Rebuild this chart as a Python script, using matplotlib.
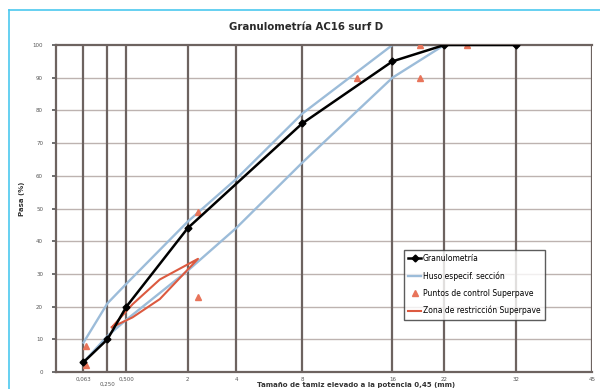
"""
Curva granulometrica AC16 surf D en escala de potencia 0,45
"""

import matplotlib
matplotlib.use("Agg")
import matplotlib.pyplot as plt
import numpy as np

######################################################################
# Datos

# tamices con linea vertical (mm)
tamices = [0.063, 0.25, 0.5, 2, 4, 8, 16, 22, 32, 45]
etiquetas_tamiz = ["0,063", "0,250", "0,500", "2", "4", "8", "16", "22", "32", "45"]

# granulometria de la mezcla
gr_tamiz = [0.063, 0.25, 0.5, 2, 8, 16, 22, 32]
gr_pasa = [3, 10, 20, 44, 76, 95, 100, 100]

# huso especificado AC16 D
huso_tamiz = [0.063, 0.25, 0.5, 2, 4, 8, 16, 22]
huso_sup = [9, 21, 27, 46, 59, 79, 100, 100]
huso_inf = [3, 11, 16, 31, 44, 64, 90, 100]

# puntos de control Superpave (19 mm)
ctrl_tamiz = [0.075, 0.075, 2.36, 2.36, 12.5, 19, 19, 25]
ctrl_pasa = [2, 8, 23, 49, 90, 90, 100, 100]

# zona de restriccion Superpave (19 mm)
zr_tamiz = [0.3, 0.6, 1.18, 2.36, 1.18, 0.6, 0.3]
zr_pasa = [13.7, 16.7, 22.3, 34.6, 28.3, 20.7, 13.7]


def p045(d):
    return np.power(np.asarray(d, dtype=float), 0.45)


######################################################################
# Figura
fig = plt.figure(figsize=(6, 3.89), dpi=100)
ax = fig.add_axes([0.0927, 0.0437, 0.894, 0.8406])

# marco exterior del grafico
fig.add_artist(plt.Line2D([9 / 600, 9 / 600], [0, 1 - 10 / 389], color="#4cc8ef", lw=1.2))
fig.add_artist(plt.Line2D([9 / 600, 1], [1 - 10 / 389, 1 - 10 / 389], color="#4cc8ef", lw=1.2))

# rejilla
for v in range(10, 100, 10):
    ax.axhline(v, color="#bdb3b0", lw=1.0, zorder=1)
for t in tamices:
    ax.axvline(p045(t), color="#6d6360", lw=1.6, zorder=1)

# huso
ax.plot(p045(huso_tamiz), huso_sup, color="#9cbcd9", lw=1.7, zorder=2,
        label="Huso especif. sección")
ax.plot(p045(huso_tamiz), huso_inf, color="#9cbcd9", lw=1.7, zorder=2)

# zona de restriccion
ax.plot(p045(zr_tamiz), zr_pasa, color="#dc5a40", lw=1.5, zorder=3,
        label="Zona de restricción Superpave")

# puntos de control
ax.plot(p045(ctrl_tamiz), ctrl_pasa, ls="none", marker="^", ms=3.8,
        color="#e8745a", zorder=4, label="Puntos de control Superpave")

# granulometria
ax.plot(p045(gr_tamiz), gr_pasa, color="black", lw=1.8, marker="D", ms=3.5,
        zorder=5, label="Granulometría")

ax.set_xlim(0, p045(45))
ax.set_ylim(0, 100)

for s in ["top", "left", "bottom"]:
    ax.spines[s].set_color("#6d6360")
    ax.spines[s].set_linewidth(1.6)
ax.spines["right"].set_visible(False)

ax.set_yticks(range(0, 101, 10))
ax.set_yticklabels([str(v) for v in range(0, 101, 10)], fontsize=4, color="#555555")
ax.tick_params(axis="y", length=3, width=1.2, color="#555555", pad=6)
ax.set_xticks([])

# etiquetas de tamiz (0,250 desplazada hacia abajo)
for t, lab in zip(tamices, etiquetas_tamiz):
    y = -0.038 if lab == "0,250" else -0.022
    ax.text(p045(t), y, lab, transform=ax.get_xaxis_transform(), fontsize=4,
            color="#555555", ha="center", va="center")

fig.text(0.51, 0.93, "Granulometría AC16 surf D", fontsize=7.3, fontweight="bold",
         ha="center", va="center", color="#2a2a2a")
fig.text(0.037, 0.49, "Pasa (%)", fontsize=5, fontweight="bold", rotation=90,
         ha="center", va="center", color="#333333")
fig.text(0.593, 1.5 / 389, "Tamaño de tamiz elevado a la potencia 0,45 (mm)",
         fontsize=5, fontweight="bold", ha="center", va="bottom", color="#333333")

handles, labels = ax.get_legend_handles_labels()
orden = [3, 0, 2, 1]
leg = ax.legend([handles[i] for i in orden], [labels[i] for i in orden],
                loc="lower left", bbox_to_anchor=(0.642, 0.148), fontsize=5.5,
                frameon=True, fancybox=False, edgecolor="#333333",
                handlelength=1.6, handletextpad=0.3, borderpad=0.6,
                labelspacing=1.05)
leg.get_frame().set_linewidth(1.0)

fig.savefig("out.png", dpi=100)
